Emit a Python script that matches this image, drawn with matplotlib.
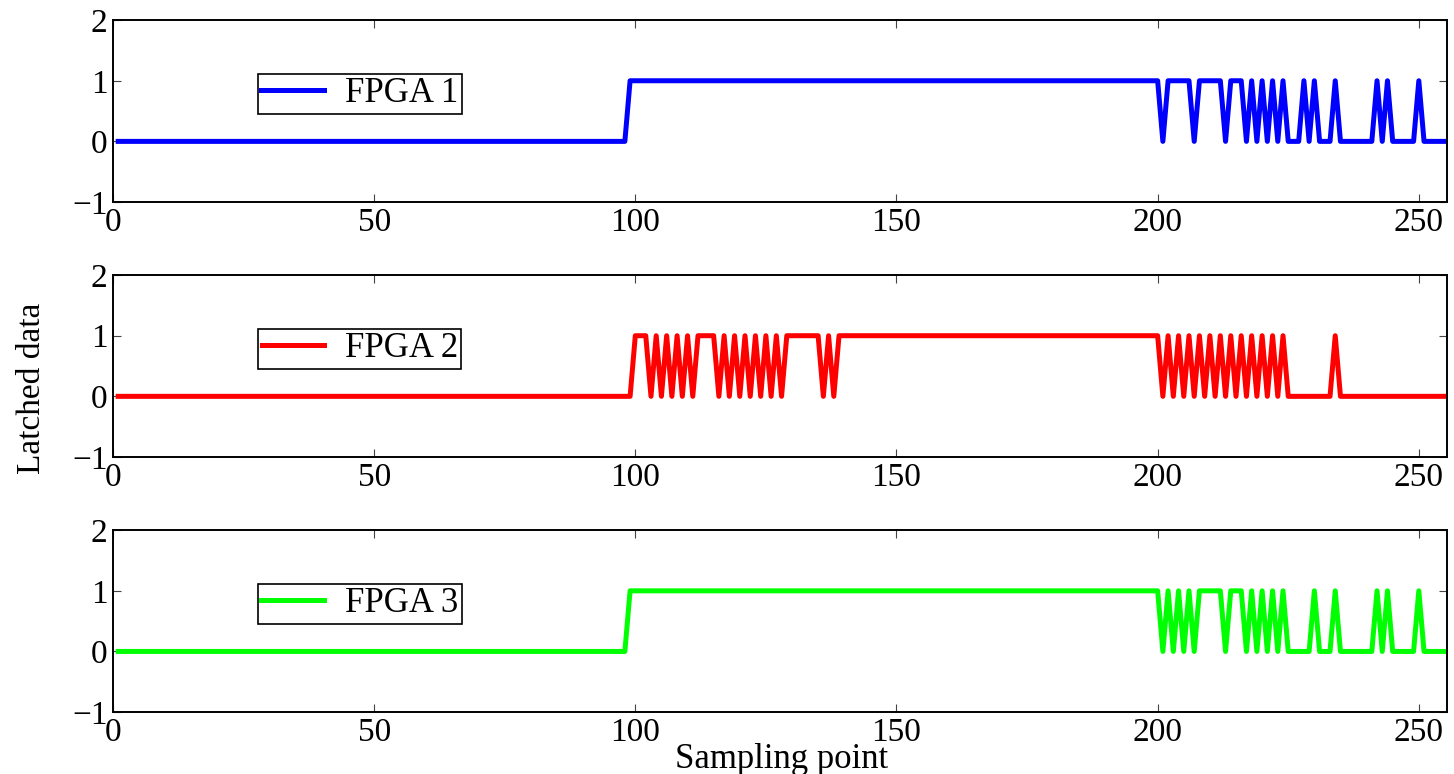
import numpy as np
import matplotlib.pyplot as plt

plt.rcParams['font.family'] = ['Liberation Serif', 'DejaVu Serif']

# sample index of the latched data
samples = np.arange(1, 257)

# runs of samples where each board latched a 1 (start, end inclusive)
fpga1_high = [(99, 200), (202, 206), (208, 212), (214, 216), (218, 218),
              (220, 220), (222, 222), (224, 224), (228, 228), (230, 230),
              (234, 234), (242, 242), (244, 244), (250, 250)]
fpga2_high = [(100, 102), (104, 104), (106, 106), (108, 108), (110, 110),
              (112, 115), (117, 117), (119, 119), (121, 121), (123, 123),
              (125, 125), (127, 127), (129, 135), (137, 137), (139, 200),
              (202, 202), (204, 204), (206, 206), (208, 208), (210, 210),
              (212, 212), (214, 214), (216, 216), (218, 218), (220, 220),
              (222, 222), (224, 224), (234, 234)]
fpga3_high = [(99, 200), (202, 202), (204, 204), (206, 206), (208, 212),
              (214, 216), (218, 218), (220, 220), (222, 222), (224, 224),
              (230, 230), (234, 234), (242, 242), (244, 244), (250, 250)]

labels = ['FPGA 1', 'FPGA 2', 'FPGA 3']
colors = ['#0000ff', '#ff0000', '#00ff00']
x_ticks = [0, 50, 100, 150, 200, 250]
y_ticks = [-1, 0, 1, 2]


def latched(runs):
    """Turn the list of high runs into one 0/1 value per sample."""
    vals = np.zeros(len(samples))
    for start, end in runs:
        vals[(samples >= start) & (samples <= end)] = 1
    return vals


fig = plt.figure(figsize=(14.54, 7.74), dpi=100)

# axes placed by hand to follow the original layout
bottoms = [0.739, 0.4096, 0.080]
series = [fpga1_high, fpga2_high, fpga3_high]

for i in range(3):
    ax = fig.add_axes([0.0777, bottoms[i], 0.9175, 0.235])
    ax.plot(samples, latched(series[i]), color=colors[i], linewidth=3.6,
            label=labels[i], solid_joinstyle='round')
    ax.set_xlim(0, 255.4)
    ax.set_ylim(-1, 2)
    ax.set_xticks(x_ticks)
    ax.set_yticks(y_ticks)
    ax.tick_params(direction='in', top=True, right=True, length=6,
                   width=0.8, color='#444444', labelsize=24)
    ax.tick_params(axis='x', pad=4)
    ax.tick_params(axis='y', pad=4)
    for sp in ax.spines.values():
        sp.set_linewidth(1.4)
    leg = ax.legend(loc='center', bbox_to_anchor=(0.185, 0.596),
                    fontsize=25, fancybox=False, framealpha=1,
                    edgecolor='black', handlelength=1.8, handletextpad=0.6,
                    borderpad=0.1, borderaxespad=0)
    leg.get_frame().set_linewidth(1.2)

fig.text(782 / 1454, 1 - 768 / 774, 'Sampling point', ha='center',
         va='baseline', fontsize=25)
fig.text(32 / 1454, 1 - 388 / 774, 'Latched data', ha='center',
         va='center', rotation=90, fontsize=24)

plt.savefig('out.png', dpi=100)
